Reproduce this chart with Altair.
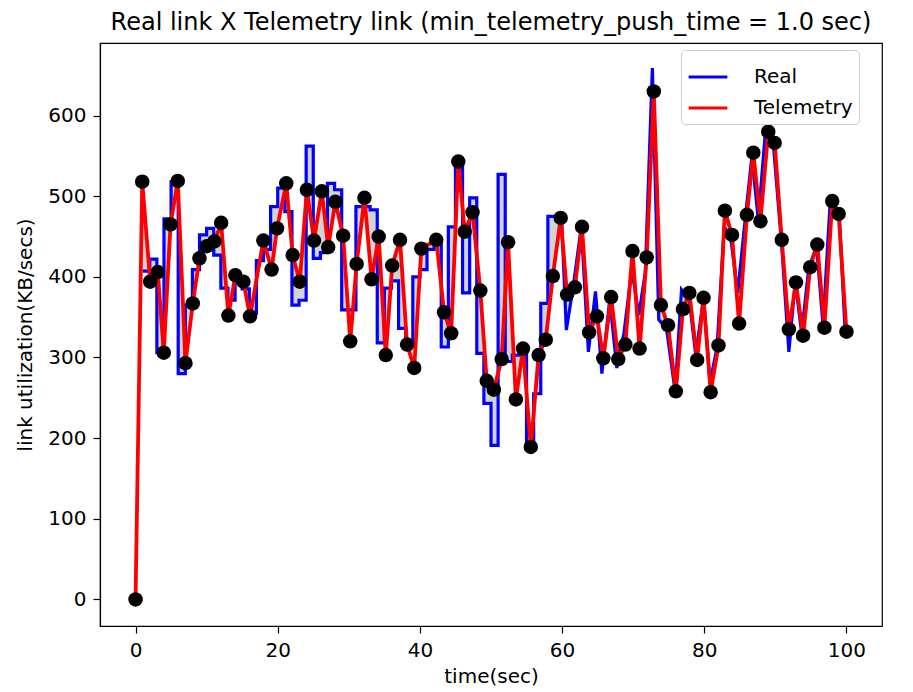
import altair as alt
import numpy as np
import pandas as pd

# Telemetry samples (time in s, link utilization in KB/s)
tele_t = [0, 0.94, 2.06, 3.13, 3.97, 4.92, 5.94, 7.02, 8.05, 8.99,
          10.01, 11.1, 12.04, 13.06, 14.04, 15.17, 16.1, 17.98, 19.14, 19.9,
          21.2, 22.1, 23.1, 24.1, 25.1, 26.2, 27.1, 28.1, 29.2, 30.2,
          31.1, 32.2, 33.2, 34.2, 35.2, 36.1, 37.2, 38.2, 39.2, 40.2,
          42.3, 43.4, 44.4, 45.4, 46.3, 47.4, 48.5, 49.4, 50.4, 51.5,
          52.4, 53.5, 54.5, 55.6, 56.7, 57.7, 58.7, 59.8, 60.7, 61.8,
          62.8, 63.8, 64.9, 65.8, 66.9, 67.9, 68.9, 69.9, 70.9, 71.9,
          72.9, 73.9, 74.9, 76.0, 77.0, 77.9, 79.0, 79.9, 80.9, 82.0,
          82.9, 83.9, 84.9, 86.0, 86.9, 87.9, 89.0, 89.9, 90.9, 91.9,
          92.9, 93.9, 94.9, 95.9, 96.9, 98.0, 98.9, 100.0]
tele_v = [0, 518, 394, 406, 306, 465, 519, 293, 367, 423,
          438, 444, 467, 352, 402, 394, 351, 445, 409, 460,
          516, 427, 394, 508, 445, 506, 437, 493, 451, 320,
          416, 498, 397, 450, 303, 414, 446, 316, 287, 435,
          446, 356, 330, 543, 456, 480, 383, 271, 260, 298,
          443, 248, 311, 189, 303, 322, 401, 473, 378, 387,
          462, 331, 351, 299, 375, 298, 316, 432, 311, 424,
          630, 365, 340, 258, 360, 380, 297, 374, 257, 315,
          482, 452, 342, 477, 554, 469, 580, 566, 446, 335,
          393, 327, 412, 440, 337, 494, 478, 332]

# Real link: per-second values (held over each second) up to t = 59
real_step_t = list(range(1, 60))
real_step_v = [407, 422, 306, 472, 518, 280, 365, 409, 452,
               460, 427, 386, 371, 400, 385, 355, 420, 434, 487,
               510, 481, 365, 371, 562, 423, 430, 516, 508, 359,
               359, 487, 487, 483, 318, 386, 395, 336, 317, 400,
               409, 434, 442, 313, 462, 537, 380, 498, 305, 243,
               191, 527, 295, 303, 309, 191, 255, 367, 475, 475]

# Real link: sampled points after t = 59
real_lin_t = [59.0, 59.9, 60.6, 61.6, 62.7, 63.7, 64.7, 65.6, 66.7, 67.7,
              68.7, 69.8, 70.8, 71.7, 72.7, 73.6, 74.7, 75.9, 76.8, 77.9,
              78.8, 79.9, 80.8, 81.8, 82.8, 83.7, 84.7, 85.8, 86.7, 87.6,
              88.6, 89.7, 90.9, 91.9, 92.8, 93.7, 94.7, 95.8, 96.7, 97.7,
              99.0, 99.8]
real_lin_v = [475, 478, 334, 390, 462, 307, 382, 280, 372, 287,
              330, 409, 353, 405, 659, 347, 335, 258, 384, 371,
              303, 374, 268, 313, 462, 450, 380, 475, 549, 471,
              580, 566, 438, 307, 394, 330, 411, 438, 340, 491,
              475, 334]

series_names = ["Real", "Telemetry"]
series_colors = ["#0000ff", "#ff0000"]

step_df = pd.DataFrame({"t": real_step_t, "v": real_step_v, "series": "Real"})
lin_df = pd.DataFrame({"t": real_lin_t, "v": real_lin_v, "series": "Real"})
tele_df = pd.DataFrame({"t": tele_t, "v": tele_v, "series": "Telemetry"})

# Shaded band between the two curves (derived from the arrays above)
grid = np.round(np.arange(1.0, 99.8001, 0.02), 3)
st = np.array(real_step_t, dtype=float)
sv = np.array(real_step_v, dtype=float)
idx = np.clip(np.searchsorted(st, grid, side="right") - 1, 0, len(sv) - 1)
real_on_grid = np.where(grid < 59.0, sv[idx],
                        np.interp(grid, real_lin_t, real_lin_v))
tele_on_grid = np.interp(grid, tele_t, tele_v)
band_df = pd.DataFrame({"t": grid, "lo": real_on_grid, "hi": tele_on_grid})

FONT = "DejaVu Sans"

x_scale = alt.Scale(domain=[-5, 105], nice=False, zero=False)
y_scale = alt.Scale(domain=[-33, 690], nice=False, zero=False)
x_axis = alt.Axis(values=[0, 20, 40, 60, 80, 100], format="d")
y_axis = alt.Axis(values=[0, 100, 200, 300, 400, 500, 600], format="d")
x_enc = alt.X("t:Q", title="time(sec)", scale=x_scale, axis=x_axis)
y_enc = alt.Y("v:Q", title="link utilization(KB/secs)", scale=y_scale, axis=y_axis)
color_enc = alt.Color("series:N",
                      scale=alt.Scale(domain=series_names, range=series_colors),
                      legend=alt.Legend(title=None, orient="none",
                                        legendX=581, legendY=7,
                                        symbolType="stroke", symbolSize=1500,
                                        symbolStrokeWidth=3,
                                        labelFontSize=20, labelFont=FONT,
                                        labelColor="black", labelOffset=25,
                                        rowPadding=0, padding=6,
                                        strokeColor="#cccccc", fillColor="white",
                                        cornerRadius=4))

band = alt.Chart(band_df).mark_area(color="#d3d3d3", opacity=1, clip=True).encode(
    x=alt.X("t:Q", scale=x_scale, title="time(sec)", axis=x_axis),
    y=alt.Y("lo:Q", scale=y_scale, title="link utilization(KB/secs)", axis=y_axis),
    y2="hi:Q")

real_step = alt.Chart(step_df).mark_line(
    interpolate="step-after", strokeWidth=3.2, clip=True
).encode(x=x_enc, y=y_enc, color=color_enc)

real_lin = alt.Chart(lin_df).mark_line(strokeWidth=3.2, clip=True).encode(
    x=x_enc, y=y_enc, color=color_enc)

tele_line = alt.Chart(tele_df).mark_line(strokeWidth=3.8, clip=True).encode(
    x=x_enc, y=y_enc, color=color_enc)

tele_pts = alt.Chart(tele_df).mark_circle(size=210, color="black", opacity=1).encode(
    x=x_enc, y=y_enc)

chart = alt.layer(band, real_step, real_lin, tele_line, tele_pts).properties(
    width=782, height=583,
    title=alt.Title("Real link X Telemetry link (min_telemetry_push_time = 1.0 sec)",
                    font=FONT, fontSize=24, fontWeight="normal", color="black",
                    anchor="middle", offset=8),
    autosize=alt.AutoSizeParams(type="none"),
    padding={"left": 92, "top": 35, "right": 15, "bottom": 60},
).configure_view(
    stroke="black", strokeWidth=1.2
).configure_axis(
    labelFont=FONT, titleFont=FONT, labelFontSize=20, titleFontSize=20,
    labelColor="black", titleColor="black", titleFontWeight="normal",
    domainColor="black", tickColor="black", tickSize=7, tickWidth=1.2,
    domainWidth=1.2, grid=False, labelPadding=7
).configure_axisX(titlePadding=6).configure_axisY(titlePadding=12)

chart.save("out.html", embed_options={"renderer": "svg", "actions": False})
